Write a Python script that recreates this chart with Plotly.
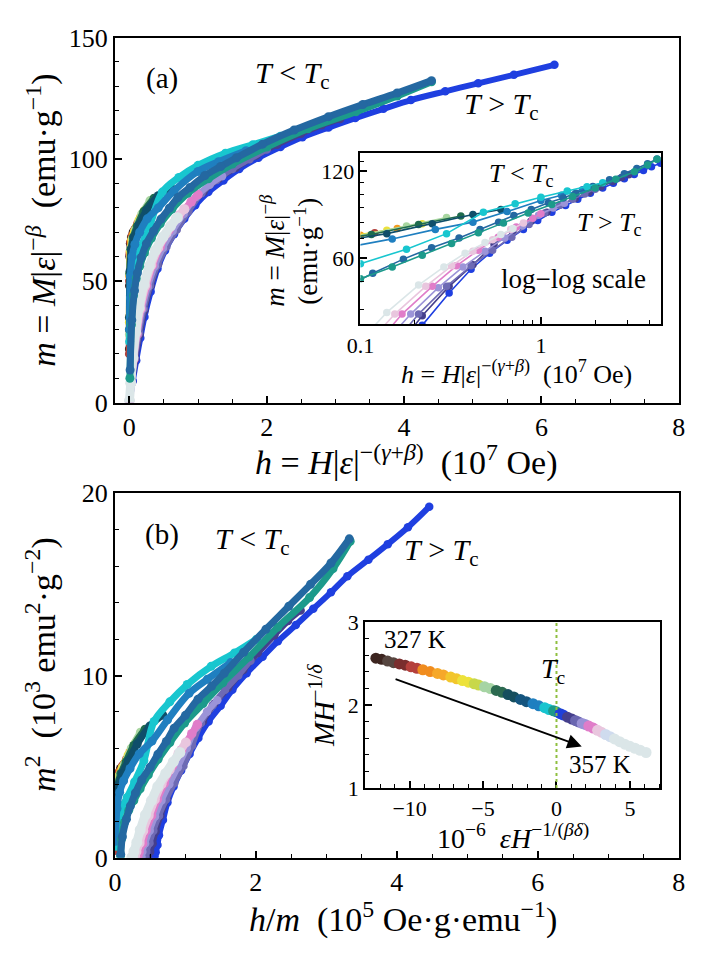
import plotly.graph_objects as go

# ------------------------------------------------------------------
# Panel (a) data: h = H|eps|^-(gamma+beta) [1e7 Oe], m = M|eps|^-beta [emu/g]
# T < Tc branches (coldest -> nearest Tc)
H_brown = [0.0005, 0.002, 0.006, 0.015, 0.03, 0.055, 0.09]
M_brown = [22, 48, 60, 65.5, 68, 70, 71.5]
H_red = [0.0006, 0.003, 0.008, 0.02, 0.04, 0.075, 0.12]
M_red = [20, 50, 61, 66, 68.5, 71, 73.5]
H_orange = [0.0008, 0.004, 0.011, 0.028, 0.055, 0.1, 0.16]
M_orange = [35, 52, 62, 66.5, 69, 72, 76]
H_yellow = [0.001, 0.005, 0.015, 0.038, 0.075, 0.14, 0.22]
M_yellow = [33, 53, 62.5, 67, 70.5, 75, 79]
H_lgreen = [0.0012, 0.006, 0.019, 0.048, 0.095, 0.18, 0.3]
M_lgreen = [28, 53, 63, 67.5, 71.5, 77.5, 83]
H_dgreen = [0.0015, 0.008, 0.024, 0.058, 0.115, 0.21, 0.36]
M_dgreen = [30, 53, 63, 68, 72.5, 78.5, 84]
H_dteal = [0.002, 0.01, 0.03, 0.07, 0.14, 0.25, 0.42, 0.6]
M_dteal = [35, 54, 63, 68, 73, 79, 85, 88.5]
H_blue = [0.003, 0.015, 0.04, 0.08, 0.15, 0.26, 0.42, 0.65, 1.0, 1.3, 1.7]
M_blue = [30, 52, 60, 65, 70, 75.5, 80, 87, 95, 99, 103.5]
H_cyan = [0.004, 0.02, 0.05, 0.1, 0.18, 0.3, 0.48, 0.72, 1.0, 1.4, 1.8, 2.2]
M_cyan = [25, 43, 52, 57.5, 64.5, 73, 86.5, 92.5, 97.5, 102.5, 106, 109.5]
H_teal = [0.008, 0.03, 0.06, 0.1, 0.15, 0.22, 0.32, 0.45, 0.62, 0.85, 1.15, 1.5, 2.0, 2.6, 3.3, 3.9, 4.4]
M_teal = [10, 32, 44, 51, 56, 61.5, 67.5, 73.5, 79.5, 86, 92, 98, 105, 112.5, 119.5, 126, 131.8]
H_main = [0.011, 0.036, 0.075, 0.117, 0.173, 0.248, 0.352, 0.46, 0.583, 0.708, 0.884, 1.10, 1.33,
          1.56, 1.94, 2.40, 2.90, 3.40, 3.90, 4.40]
M_main = [13.4, 33.9, 46, 53.3, 59.6, 65.3, 70.5, 75.4, 79.9, 84.3, 88.4, 93.3, 97.0,
          100.6, 106.2, 112.0, 117.5, 122.5, 127.2, 132.3]

# T > Tc branches (nearest Tc -> hottest)
H_up_blue = [0.005, 0.05, 0.10, 0.16, 0.22, 0.31, 0.41, 0.52, 0.65, 0.80, 0.96, 1.15, 1.37, 1.6, 1.88,
             2.2, 2.52, 2.9, 3.29, 3.7, 4.10, 4.6, 5.08, 5.6, 6.19]
M_up_blue = [0.9, 8.9, 17.3, 26.5, 35.2, 45.5, 55.0, 62.5, 69.2, 75.5, 81.1, 86.5, 91.3, 96, 100.6,
             105, 109.0, 113, 116.9, 120.7, 124.3, 127.9, 131.2, 134.7, 138.8]
H_up_dpurple = [0.004, 0.04, 0.09, 0.15, 0.22, 0.31, 0.42, 0.55, 0.7, 0.88, 1.08, 1.3, 1.55, 1.85,
                2.15, 2.5, 2.8, 3.07]
M_up_dpurple = [0.9, 8.5, 18, 28, 38, 48, 57, 67, 74, 80.5, 86.5, 92, 96.5, 101.5,
                106, 110.5, 114, 116.5]
H_up_slate = [0.003, 0.035, 0.08, 0.14, 0.21, 0.3, 0.41, 0.54, 0.69, 0.86, 1.05, 1.27, 1.5, 1.75, 2.0]
M_up_slate = [0.8, 8.2, 18, 28.5, 38.5, 48, 56.5, 64, 71, 78.5, 86, 91.5, 96, 100, 104]
H_up_lav = [0.003, 0.03, 0.07, 0.12, 0.19, 0.27, 0.37, 0.49, 0.63, 0.79, 0.97, 1.17, 1.35]
M_up_lav = [0.8, 8, 18, 28, 38.5, 47.5, 56, 63.5, 70.5, 77.5, 84.5, 89.5, 93]
H_up_pink = [0.0025, 0.026, 0.06, 0.11, 0.17, 0.25, 0.34, 0.45, 0.58, 0.73, 0.9, 1.0]
M_up_pink = [0.8, 8, 17.5, 28, 38.5, 48, 56.5, 64, 71, 77, 82.5, 85.5]
H_up_lpink = [0.002, 0.023, 0.055, 0.1, 0.155, 0.23, 0.32, 0.42, 0.54, 0.68, 0.8]
M_up_lpink = [0.75, 8, 18, 28.5, 38.5, 48, 56.5, 63.5, 69.5, 75.5, 79.5]
H_up_grey = [0.0018, 0.02, 0.05, 0.09, 0.14, 0.21, 0.29, 0.38, 0.49, 0.6, 0.7]
M_up_grey = [0.75, 8, 18.5, 29, 39, 48.5, 56, 62.5, 68, 72.5, 76]

# Inset (b): scaling plot  x = 1e-6 eps H^-1/(beta delta),  y = M H^-1/delta
SCAL_X = [-12.3, -11.9, -11.5, -11.1, -10.7, -10.3, -9.9, -9.5, -9.1, -8.6, -8.1, -7.7, -7.2, -6.8,
          -6.4, -6.0, -5.6, -5.3, -4.9, -4.5, -4.1, -3.7, -3.3, -2.9, -2.45, -2.05, -1.6, -1.2,
          -0.8, -0.5, -0.2, 0.0, 0.25, 0.45, 0.75, 1.05, 1.3, 1.5, 1.75, 1.95, 2.2, 2.5, 2.8, 3.05,
          3.35, 3.65, 3.95, 4.3, 4.65, 5.0, 5.35, 5.7, 6.1]
SCAL_Y = [2.565, 2.55, 2.53, 2.51, 2.495, 2.48, 2.46, 2.443, 2.425, 2.403, 2.38, 2.362, 2.337, 2.316,
          2.295, 2.275, 2.256, 2.24, 2.22, 2.198, 2.176, 2.153, 2.125, 2.097, 2.067, 2.04, 2.016, 1.99,
          1.967, 1.945, 1.93, 1.918, 1.895, 1.88, 1.853, 1.83, 1.81, 1.795, 1.778, 1.765, 1.745, 1.722,
          1.695, 1.672, 1.644, 1.618, 1.59, 1.558, 1.527, 1.502, 1.478, 1.454, 1.427]
ARROW_FROM = (-11.06, 2.318)
ARROW_TO = (1.72, 1.50)

# ------------------------------------------------------------------ styles
C = dict(brown='#3f2622', red='#b3403c', orange='#f39a1c', yellow='#ece13c', lgreen='#a8d6a0',
         dgreen='#1f6b4e', dteal='#0f4e6a', blue='#1f7fc0', cyan='#18c6cf', teal='#1c9a8b',
         main='#2468a1', ublue='#1f3fe0', dpurple='#453f8c', slate='#6e6ab4', lav='#9c94d8',
         pink='#e07dc9', lpink='#e9c6de', grey='#dbe6e8')
WIDE = {'grey': (9, 11), 'lpink': (8, 10), 'pink': (7, 9.5)}
BELOW_STYLE = (7, 9)
SCAL_C = (['#3d2520'] * 2 + ['#574640'] * 2 + ['#7a2e2e'] * 2 + ['#b5403c'] * 2 + ['#f08c1e'] * 2 +
          ['#f6a82a'] * 2 + ['#f2c62c'] * 2 + ['#ede23a'] * 2 + ['#c8d84a'] * 2 + ['#a6d4a4'] * 2 +
          ['#2c6a50'] * 2 + ['#164e5e'] * 2 + ['#15557f'] * 2 + ['#1f7fc0'] * 2 + ['#18c4cf'] * 2 +
          ['#1c9a8b'] * 2 + ['#2040d8'] * 2 + ['#453f8c'] * 2 + ['#6a66b0'] * 2 + ['#9a92d6'] * 2 +
          ['#e07dc9'] * 2 + ['#e9c6de'] * 2 + ['#cfdbee'] * 2 + ['#dbe6e8'] * 7)

below = [(H_brown, M_brown, 'brown'), (H_red, M_red, 'red'), (H_orange, M_orange, 'orange'),
         (H_yellow, M_yellow, 'yellow'), (H_lgreen, M_lgreen, 'lgreen'), (H_dgreen, M_dgreen, 'dgreen'),
         (H_dteal, M_dteal, 'dteal'), (H_cyan, M_cyan, 'cyan'), (H_blue, M_blue, 'blue'),
         (H_teal, M_teal, 'teal'), (H_main, M_main, 'main')]
above = [(H_up_blue, M_up_blue, 'ublue'), (H_up_dpurple, M_up_dpurple, 'dpurple'),
         (H_up_slate, M_up_slate, 'slate'), (H_up_lav, M_up_lav, 'lav'), (H_up_pink, M_up_pink, 'pink'),
         (H_up_lpink, M_up_lpink, 'lpink'), (H_up_grey, M_up_grey, 'grey')]
BELOW_KEYS = {b[2] for b in below}

FONT = "Liberation Serif"
W, HGT = 710, 960


def px(x):
    return x / W


def py(y):
    return 1 - y / HGT


fig = go.Figure()


def add_curve(xs, ys, col, xa, ya, lw, ms, shape='spline'):
    fig.add_trace(go.Scatter(x=xs, y=ys, xaxis=xa, yaxis=ya, mode='lines+markers',
                             line=dict(color=col, width=lw, shape=shape),
                             marker=dict(color=col, size=ms, line=dict(width=0)),
                             showlegend=False, hoverinfo='skip'))


def style_of(k):
    if k in WIDE:
        return WIDE[k]
    if k in BELOW_KEYS:
        return BELOW_STYLE
    return (6, 8.5)


# main (a)
for hs, ms_, k in above + below:
    lw, mk = style_of(k)
    add_curve(hs, ms_, C[k], 'x', 'y', lw, mk)

# main (b): Arrott plot of the same data, m^2 [1e3] vs h/m [1e5]
for hs, ms_, k in above + below:
    xs = [h / m * 100 for h, m in zip(hs, ms_)]
    ys = [m * m / 1000 for m in ms_]
    lw, mk = style_of(k)
    add_curve(xs, ys, C[k], 'x3', 'y3', lw, mk)

# inset (a) log-log
inset_order = above + [b for b in below if b[2] not in ('cyan', 'teal', 'main')] + \
    [b for b in below if b[2] == 'main'] + [b for b in below if b[2] == 'cyan'] + \
    [b for b in below if b[2] == 'teal']
for hs, ms_, k in inset_order:
    add_curve(hs, ms_, C[k], 'x2', 'y2', 1.6, 7.5, 'linear')

# inset (b)
fig.add_trace(go.Scatter(x=SCAL_X, y=SCAL_Y, xaxis='x4', yaxis='y4', mode='markers',
                         marker=dict(color=SCAL_C, size=11, line=dict(width=0)),
                         showlegend=False, hoverinfo='skip'))

ax_common = dict(showline=True, linecolor='black', linewidth=1.8, mirror=True, ticks='inside',
                 tickcolor='black', tickwidth=1.5, showgrid=False, zeroline=False,
                 tickfont=dict(family=FONT, size=26, color='black'))
MINOR = dict(ticks='inside', ticklen=4, tickcolor='black', tickwidth=1.3)
IN_TICK = dict(family=FONT, size=22, color='black')

fig.update_layout(
    width=W, height=HGT, margin=dict(l=0, r=0, t=0, b=0),
    paper_bgcolor='white', plot_bgcolor='white',
    font=dict(family=FONT, color='black'),
    xaxis=dict(ax_common, domain=[px(104), px(685)], range=[-0.21, 8], anchor='y',
               tickvals=[0, 2, 4, 6, 8], ticklen=7, minor=dict(MINOR, dtick=0.5)),
    yaxis=dict(ax_common, domain=[py(400.7), py(24.3)], range=[0, 150], anchor='x',
               tickvals=[0, 50, 100, 150], ticklen=7, minor=dict(MINOR, dtick=10)),
    xaxis3=dict(ax_common, domain=[px(104), px(685)], range=[0, 8], anchor='y3',
                tickvals=[0, 2, 4, 6, 8], ticklen=7, minor=dict(MINOR, dtick=0.5)),
    yaxis3=dict(ax_common, domain=[py(870), py(494.3)], range=[0, 20], anchor='x3',
                tickvals=[0, 10, 20], ticklen=7, minor=dict(MINOR, dtick=2)),
    xaxis2=dict(ax_common, domain=[px(357), px(667)], type='log', range=[-1, 0.667], anchor='y2',
                tickvals=[0.1, 1], ticktext=['0.1', '1'], ticklen=7, tickfont=IN_TICK,
                minor=dict(MINOR, tickvals=[0.2, 0.3, 0.4, 0.5, 0.6, 0.7, 0.8, 0.9, 2, 3, 4])),
    yaxis2=dict(ax_common, domain=[py(320), py(143)], type='log', range=[1.550, 2.143], anchor='x2',
                tickvals=[60, 120], ticktext=['60', '120'], ticklen=7, tickfont=IN_TICK,
                minor=dict(MINOR, tickvals=[40, 50, 70, 80, 90, 100, 110, 130])),
    xaxis4=dict(ax_common, domain=[px(361.7), px(666)], range=[-13.04, 7.07], anchor='y4',
                tickvals=[-10, -5, 0, 5], ticklen=7, tickfont=IN_TICK, minor=dict(MINOR, dtick=1)),
    yaxis4=dict(ax_common, domain=[py(798), py(627)], range=[1, 3], anchor='x4',
                tickvals=[1, 2, 3], ticklen=7, tickfont=IN_TICK, minor=dict(MINOR, dtick=0.2)),
)

fig.add_shape(type='line', xref='x4', yref='y4', x0=0, x1=0, y0=1, y1=3,
              line=dict(color='#8fbf3f', width=2, dash='dot'))
fig.add_annotation(xref='x4', yref='y4', axref='x4', ayref='y4', x=ARROW_TO[0], y=ARROW_TO[1],
                   ax=ARROW_FROM[0], ay=ARROW_FROM[1], showarrow=True, arrowhead=2,
                   arrowsize=1.6, arrowwidth=1.8, arrowcolor='black', text='')


def note(x, y, text, size=24, angle=0, xanchor='center'):
    fig.add_annotation(xref='paper', yref='paper', x=px(x), y=py(y), text=text, showarrow=False,
                       textangle=angle, xanchor=xanchor, yanchor='middle',
                       font=dict(family=FONT, size=size, color='black'))


TLT = '<i>T</i> &lt; <i>T</i><sub>c</sub>'
TGT = '<i>T</i> &gt; <i>T</i><sub>c</sub>'
HLAB = '<i>h</i> = <i>H</i>|<i>ε</i>|<sup>−(<i>γ</i>+<i>β</i>)</sup>&nbsp;&nbsp;(10<sup>7</sup> Oe)'
MLAB = '<i>m</i> = <i>M</i>|<i>ε</i>|<sup>−<i>β</i></sup>'

# panel (a)
note(152, 67, '(a)', 29)
note(287, 63, TLT, 30)
note(502, 95, TGT, 30)
note(28, 213, MLAB + '&nbsp;&nbsp;(emu·g<sup>−1</sup>)', 34, -90)
note(404, 460, HLAB, 34)
# inset (a)
note(523, 166, TLT, 26)
note(614, 217, TGT, 26)
note(577, 273, 'log−log scale', 27)
note(266, 244, MLAB, 27, -90)
note(300, 245, '(emu·g<sup>−1</sup>)', 27, -90)
note(518, 370, HLAB, 26)
# panel (b)
note(152, 537, '(b)', 29)
note(246, 543, TLT, 30)
note(441, 555, TGT, 30)
note(28, 671, '<i>m</i><sup>2</sup>&nbsp;&nbsp;(10<sup>3</sup> emu<sup>2</sup>·g<sup>−2</sup>)', 34, -90)
note(401, 932, '<i>h</i>/<i>m</i>&nbsp;&nbsp;(10<sup>5</sup> Oe·g·emu<sup>−1</sup>)', 34)
# inset (b)
note(413, 645, '327 K', 25)
note(556, 677, '<i>T</i><sub>c</sub>', 28)
note(604, 774, '357 K', 25)
note(318, 713, '<i>MH</i><sup>−1/<i>δ</i></sup>', 29, -90)
note(514, 848, '10<sup>−6</sup>&nbsp;&nbsp;<i>εH</i><sup>−1/(<i>βδ</i>)</sup>', 28)

fig.write_html("out.html", config={'displayModeBar': False},
               post_script="document.body.style.margin='0px';")
